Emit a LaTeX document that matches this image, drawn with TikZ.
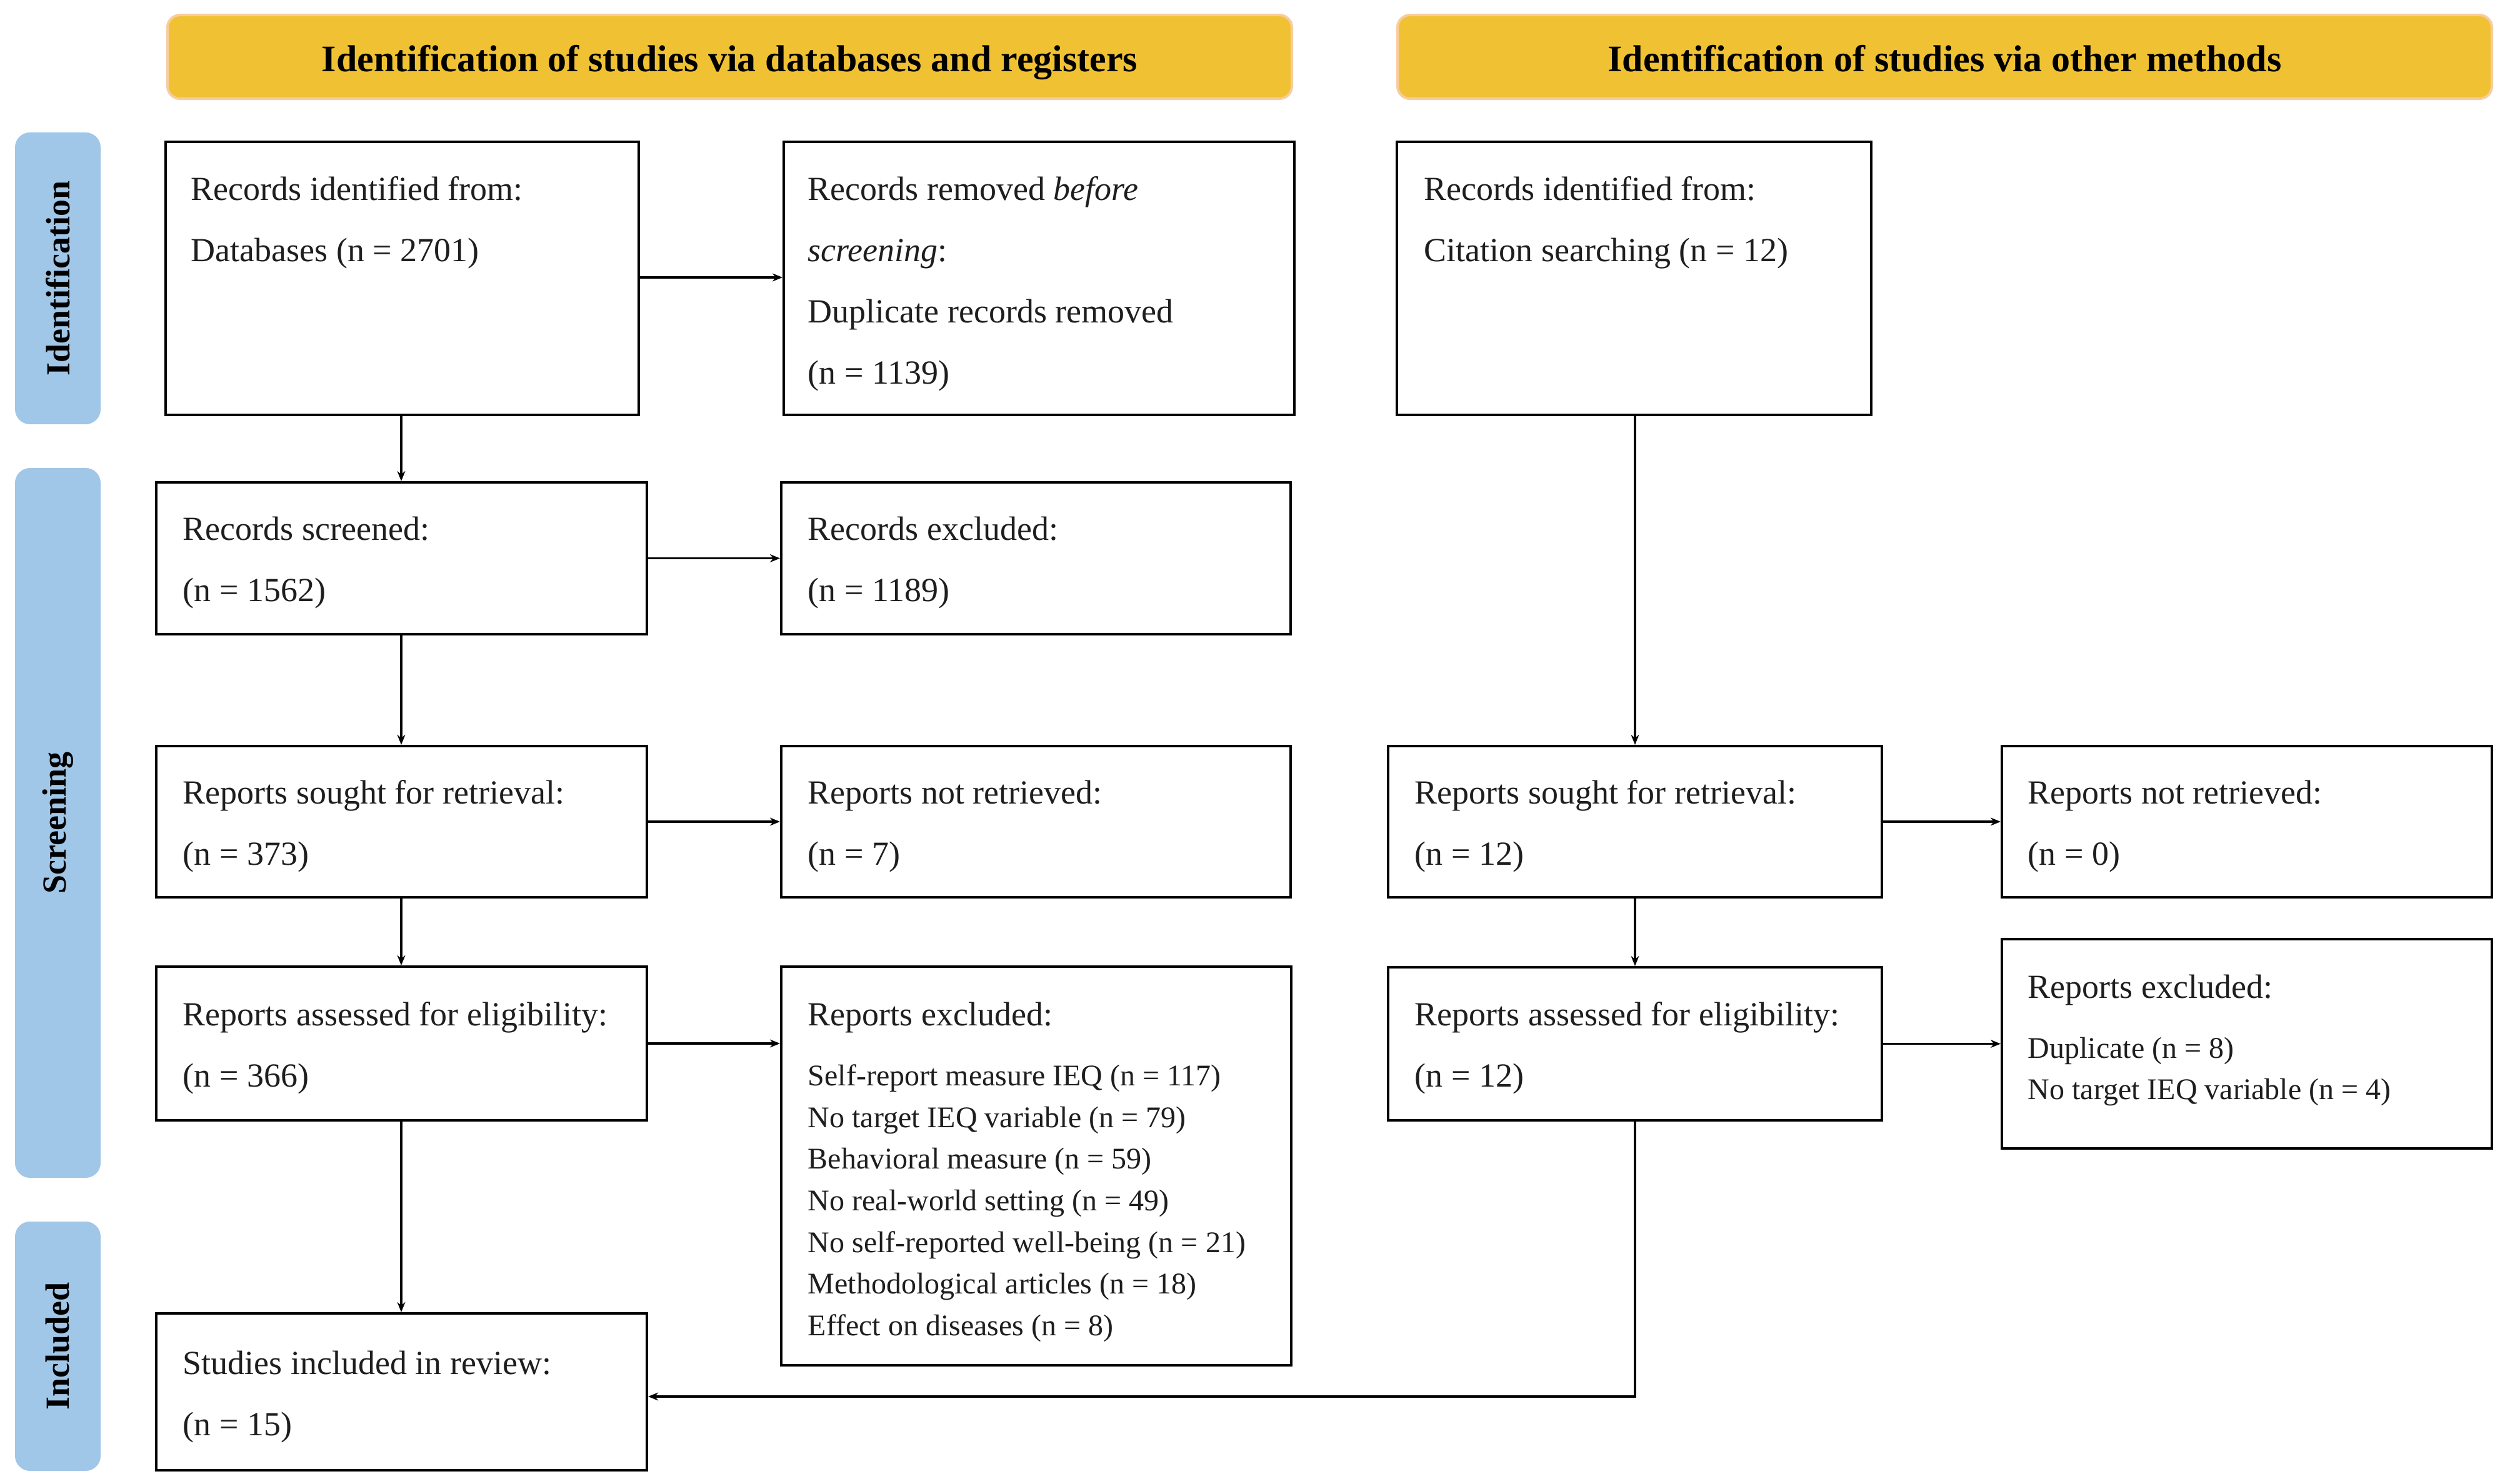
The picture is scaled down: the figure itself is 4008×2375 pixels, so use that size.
\documentclass[tikz,border=0pt]{standalone}
\usepackage{fontspec}
\setmainfont{Liberation Serif}
\usetikzlibrary{arrows.meta}
\definecolor{hdrfill}{RGB}{240,194,51}
\definecolor{hdrline}{RGB}{248,204,160}
\definecolor{phasefill}{RGB}{160,198,232}
\definecolor{txtcol}{RGB}{30,30,30}
\newcommand\mkbox[6][box]{\node[#1, minimum width={(#5-#3)*0.25pt}, minimum height={(#6-#4)*0.25pt}] (#2) at ({(#3+#5)/2},{(#4+#6)/2}) {};}
\begin{document}
\begin{tikzpicture}[x=0.25pt,y=-0.25pt,
  box/.style={draw=black, line width=1pt, inner sep=0pt, fill=white},
  hdr/.style={draw=hdrline, fill=hdrfill, line width=1pt, rounded corners=5pt, inner sep=0pt},
  phase/.style={fill=phasefill, draw=none, rounded corners=6pt, inner sep=0pt},
  hdrtxt/.style={inner sep=0pt, anchor=base, text=black, font=\fontsize{15}{18}\selectfont\bfseries},
  phasetxt/.style={inner sep=0pt, rotate=90, text=black, font=\fontsize{13.5}{16}\selectfont\bfseries},
  txt/.style={anchor=base west, inner sep=0pt, text=txtcol, font=\fontsize{13.5}{16}\selectfont, yshift=-1.2pt},
  sm/.style={anchor=base west, inner sep=0pt, text=txtcol, font=\fontsize{12}{14}\selectfont, yshift=-1pt},
  arr/.style={-{Stealth[length=4pt,width=3.2pt]}, line width=0.8pt, draw=black},
  ln/.style={line width=0.8pt, draw=black}
]
\useasboundingbox (0,0) rectangle (4008,2375);
\fill[white] (0,0) rectangle (4008,2375);

% headers
\mkbox[hdr]{h1}{268}{24}{2067}{158}
\node[hdrtxt] (h1t) at (h1.center |- 0,115) {Identification of studies via databases and registers};
\mkbox[hdr]{h2}{2236}{24}{3987}{158}
\node[hdrtxt] (h2t) at (h2.center |- 0,115) {Identification of studies via other methods};

% phases
\mkbox[phase]{p1}{24}{212}{161}{679}
\node[phasetxt] (p1t) at (p1.center) {Identification};
\mkbox[phase]{p2}{24}{749}{161}{1885}
\node[phasetxt] (p2t) at (p2.center) {Screening};
\mkbox[phase]{p3}{24}{1955}{161}{2354}
\node[phasetxt] (p3t) at (p3.center) {Included};

% left column boxes
\mkbox{b1}{265}{227}{1022}{664}
\node[txt] (b1a) at (305,316) {Records identified from:};
\node[txt] (b1b) at (305,414) {Databases (n = 2701)};

\mkbox{b2}{1254}{227}{2071}{664}
\node[txt] (b2a) at (1292,316) {Records removed \emph{before}};
\node[txt] (b2b) at (1292,414) {\emph{screening}:};
\node[txt] (b2c) at (1292,512) {Duplicate records removed};
\node[txt] (b2d) at (1292,610) {(n = 1139)};

\mkbox{b3}{250}{772}{1035}{1015}
\node[txt] (b3a) at (292,860) {Records screened:};
\node[txt] (b3b) at (292,958) {(n = 1562)};

\mkbox{b4}{1250}{772}{2065}{1015}
\node[txt] (b4a) at (1292,860) {Records excluded:};
\node[txt] (b4b) at (1292,958) {(n = 1189)};

\mkbox{b5}{250}{1194}{1035}{1436}
\node[txt] (b5a) at (292,1282) {Reports sought for retrieval:};
\node[txt] (b5b) at (292,1380) {(n = 373)};

\mkbox{b6}{1250}{1194}{2065}{1436}
\node[txt] (b6a) at (1292,1282) {Reports not retrieved:};
\node[txt] (b6b) at (1292,1380) {(n = 7)};

\mkbox{b7}{250}{1547}{1035}{1793}
\node[txt] (b7a) at (292,1637) {Reports assessed for eligibility:};
\node[txt] (b7b) at (292,1735) {(n = 366)};

\mkbox{b8}{1250}{1547}{2066}{2185}
\node[txt] (b8a) at (1292,1637) {Reports excluded:};
\node[sm] (b8b) at (1292,1733) {Self-report measure IEQ (n = 117)};
\node[sm] (b8c) at (1292,1800) {No target IEQ variable (n = 79)};
\node[sm] (b8d) at (1292,1866) {Behavioral measure (n = 59)};
\node[sm] (b8e) at (1292,1933) {No real-world setting (n = 49)};
\node[sm] (b8f) at (1292,2000) {No self-reported well-being (n = 21)};
\node[sm] (b8g) at (1292,2066) {Methodological articles (n = 18)};
\node[sm] (b8h) at (1292,2133) {Effect on diseases (n = 8)};

\mkbox{b9}{250}{2102}{1035}{2353}
\node[txt] (b9a) at (292,2195) {Studies included in review:};
\node[txt] (b9b) at (292,2293) {(n = 15)};

% right column boxes
\mkbox{c1}{2235}{227}{2994}{664}
\node[txt] (c1a) at (2278,316) {Records identified from:};
\node[txt] (c1b) at (2278,414) {Citation searching (n = 12)};

\mkbox{c2}{2221}{1194}{3011}{1436}
\node[txt] (c2a) at (2263,1282) {Reports sought for retrieval:};
\node[txt] (c2b) at (2263,1380) {(n = 12)};

\mkbox{c3}{3203}{1194}{3987}{1436}
\node[txt] (c3a) at (3244,1282) {Reports not retrieved:};
\node[txt] (c3b) at (3244,1380) {(n = 0)};

\mkbox{c4}{2221}{1548}{3011}{1793}
\node[txt] (c4a) at (2263,1637) {Reports assessed for eligibility:};
\node[txt] (c4b) at (2263,1735) {(n = 12)};

\mkbox{c5}{3203}{1503}{3987}{1838}
\node[txt] (c5a) at (3244,1593) {Reports excluded:};
\node[sm] (c5b) at (3244,1689) {Duplicate (n = 8)};
\node[sm] (c5c) at (3244,1755) {No target IEQ variable (n = 4)};

% connectors
\draw[arr] (b1.east |- 0,444) -- (b2.west |- 0,444);
\draw[arr] (b1.south -| 642,0) -- (b3.north -| 642,0);
\draw[arr] (b3.east) -- (b4.west);
\draw[arr] (b3.south -| 642,0) -- (b5.north -| 642,0);
\draw[arr] (b5.east) -- (b6.west);
\draw[arr] (b5.south -| 642,0) -- (b7.north -| 642,0);
\draw[arr] (b7.east) -- (b8.west |- b7.east);
\draw[arr] (b7.south -| 642,0) -- (b9.north -| 642,0);

\draw[arr] (c1.south -| c2.north) -- (c2.north);
\draw[arr] (c2.east) -- (c3.west);
\draw[arr] (c2.south) -- (c4.north);
\draw[arr] (c4.east) -- (c5.west |- c4.east);
\coordinate (corner) at (c4.south |- 0,2235);
\draw[arr] (c4.south) -- (corner) -- (b9.east |- corner);
\end{tikzpicture}
\end{document}
